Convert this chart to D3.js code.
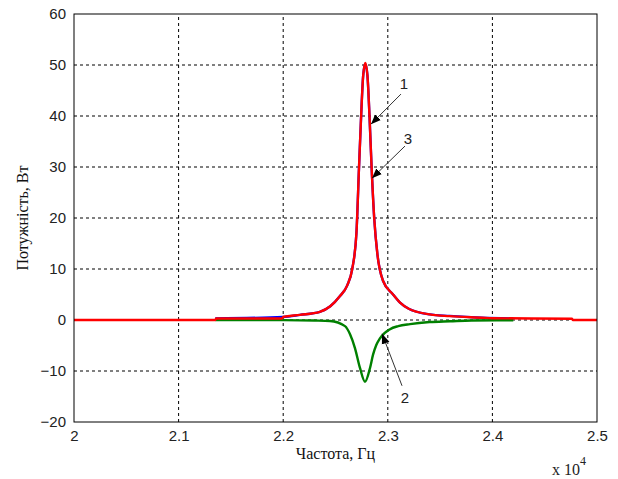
<!DOCTYPE html>
<html>
<head>
<meta charset="utf-8">
<script src="https://cdn.jsdelivr.net/npm/d3@7.9.0/dist/d3.min.js"></script>
<style>
  body { margin: 0; background: #fff; }
  svg { display: block; }
  .tick-label { font-family: "Liberation Sans", Arial, sans-serif; font-size: 15px; fill: #222; }
  .axis-title { font-family: "Liberation Serif", "Times New Roman", serif; font-size: 16px; fill: #111; }
  .grid line { stroke: #000; stroke-dasharray: 3,3; stroke-width: 1; }
</style>
</head>
<body>
<svg id="chart" width="618" height="479"></svg>
<script>
// curve 3 (red), 1 (blue), 2 (green): frequency in Hz, power in W
const redFreq = [20000, 21350, 21360, 21990, 22000, 22160, 22350, 22450, 22543, 22610, 22660, 22700, 22725, 22745, 22765, 22785, 22805, 22825, 22845, 22870, 22900, 22954, 23050, 23117, 23200, 23400, 23590, 23900, 24000, 24760, 24770, 25000];
const redPow  = [0, 0, 0.3, 0.3, 0.6, 1.0, 1.6, 2.7, 4.7, 6.7, 10, 17, 30, 40, 48, 50.4, 48, 40, 30, 20, 13, 7.7, 5.0, 3.4, 2.2, 1.1, 0.75, 0.45, 0.35, 0.25, 0, 0];

const blueFreq = [21350, 22000, 22160, 22350, 22450, 22543, 22610, 22660, 22700, 22725, 22745, 22765, 22785, 22805, 22825, 22845, 22870, 22900, 22954, 23050, 23117, 23200, 23400, 23590, 23900, 24200];
const bluePow  = [0.3, 0.6, 1.0, 1.6, 2.7, 4.7, 6.7, 10, 17, 30, 40, 48, 50.2, 48, 40, 30, 20, 13, 7.7, 5.0, 3.4, 2.2, 1.1, 0.8, 0.45, 0.3];

const greenFreq = [21350, 22000, 22300, 22447, 22591, 22639, 22686, 22734, 22782, 22830, 22859, 22890, 22925, 23021, 23100, 23212, 23400, 23595, 23800, 24200];
const greenPow  = [0, -0.02, -0.1, -0.2, -1.2, -2.8, -5.5, -9.4, -12.1, -9.4, -6.8, -4.9, -3.6, -1.8, -1.2, -0.8, -0.4, -0.25, -0.1, -0.05];

const xTicks = [20000, 21000, 22000, 23000, 24000, 25000];
const yTicks = [-20, -10, 0, 10, 20, 30, 40, 50, 60];

// arrow annotations: label, label position, arrow start, arrow tip (data coords)
const notes = [
  { label: '1', lx: 23155, ly: 45.3, x0: 23126, y0: 44.3, x1: 22839, y1: 38.4 },
  { label: '3', lx: 23193, ly: 34.5, x0: 23164, y0: 34.1, x1: 22849, y1: 27.8 },
  { label: '2', lx: 23164, ly: -16.3, x0: 23136, y0: -12.9, x1: 22945, y1: -2.7 }
];

const width = 618, height = 479;
const margin = { top: 14, right: 21, bottom: 57, left: 74 };

const svg = d3.select('#chart');

const x = d3.scaleLinear().domain([20000, 25000]).range([margin.left, width - margin.right]);
const y = d3.scaleLinear().domain([-20, 60]).range([height - margin.bottom, margin.top]);

svg.append('defs').append('marker')
  .attr('id', 'arrow')
  .attr('viewBox', '0 0 10 10')
  .attr('refX', 10).attr('refY', 5)
  .attr('markerWidth', 10).attr('markerHeight', 10)
  .attr('markerUnits', 'userSpaceOnUse')
  .attr('orient', 'auto')
  .append('path').attr('d', 'M0,1 L10,5 L0,9 Z').attr('fill', '#000');

// grid
const grid = svg.append('g').attr('class', 'grid');
grid.selectAll('line.v')
  .data(xTicks.slice(1, -1))
  .join('line').attr('class', 'v')
  .attr('x1', d => x(d)).attr('x2', d => x(d))
  .attr('y1', y(-20)).attr('y2', y(60));
grid.selectAll('line.h')
  .data(yTicks.slice(1, -1))
  .join('line').attr('class', 'h')
  .attr('x1', x(20000)).attr('x2', x(25000))
  .attr('y1', d => y(d)).attr('y2', d => y(d));

// curves
const line = d3.line()
  .x(d => x(d[0]))
  .y(d => y(d[1]))
  .curve(d3.curveMonotoneX);

const series = [
  { f: blueFreq, p: bluePow, color: '#0000ff' },
  { f: greenFreq, p: greenPow, color: '#008000' },
  { f: redFreq, p: redPow, color: '#ff0000' }
];
svg.append('g').selectAll('path')
  .data(series)
  .join('path')
  .attr('d', s => line(s.f.map((f, i) => [f, s.p[i]])))
  .attr('fill', 'none')
  .attr('stroke', s => s.color)
  .attr('stroke-width', 2.4)
  .attr('stroke-linejoin', 'round');

// box
svg.append('rect')
  .attr('x', x(20000)).attr('y', y(60))
  .attr('width', x(25000) - x(20000)).attr('height', y(-20) - y(60))
  .attr('fill', 'none').attr('stroke', '#000').attr('stroke-width', 1);

// axes labels
const xAxis = d3.axisBottom(x).tickValues(xTicks).tickSize(0).tickPadding(8)
  .tickFormat(d => d3.format('~g')(d / 10000));
const gx = svg.append('g').attr('transform', `translate(0,${y(-20)})`).call(xAxis);
gx.select('.domain').remove();
gx.selectAll('text').attr('class', 'tick-label').attr('fill', null);

const yAxis = d3.axisLeft(y).tickValues(yTicks).tickSize(0).tickPadding(8);
const gy = svg.append('g').attr('transform', `translate(${x(20000)},0)`).call(yAxis);
gy.select('.domain').remove();
gy.selectAll('text').attr('class', 'tick-label').attr('fill', null);
gx.attr('font-family', null).attr('font-size', null);
gy.attr('font-family', null).attr('font-size', null);

svg.append('text').attr('class', 'axis-title')
  .attr('x', (x(20000) + x(25000)) / 2).attr('y', 459)
  .attr('text-anchor', 'middle').text('Частота, Гц');

svg.append('text').attr('class', 'axis-title')
  .attr('transform', `translate(28,${(y(60) + y(-20)) / 2}) rotate(-90)`)
  .attr('text-anchor', 'middle').text('Потужність, Вт');

const mult = svg.append('text')
  .attr('x', 552).attr('y', 475)
  .style('font-family', '"Liberation Serif", serif').style('font-size', '16px').style('fill', '#222');
mult.append('tspan').text('x 10');
mult.append('tspan').attr('dy', -10).style('font-size', '12px').text('4');

// annotations
const ann = svg.append('g');
ann.selectAll('line')
  .data(notes)
  .join('line')
  .attr('x1', d => x(d.x0)).attr('y1', d => y(d.y0))
  .attr('x2', d => x(d.x1)).attr('y2', d => y(d.y1))
  .attr('stroke', '#333').attr('stroke-width', 1)
  .attr('marker-end', 'url(#arrow)');
ann.selectAll('text')
  .data(notes)
  .join('text')
  .attr('class', 'tick-label')
  .attr('x', d => x(d.lx)).attr('y', d => y(d.ly))
  .attr('text-anchor', 'middle')
  .text(d => d.label);
</script>
</body>
</html>
